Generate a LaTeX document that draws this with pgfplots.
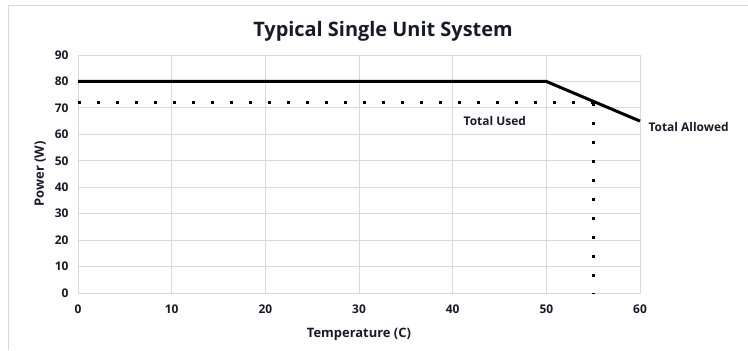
\documentclass[border=0pt]{standalone}
\usepackage{pgfplots}
\pgfplotsset{compat=1.18}
\usepackage{fontspec}
\setmainfont{Open Sans}
\definecolor{gridcol}{RGB}{217,217,217}
\definecolor{txtcol}{RGB}{25,25,40}
\begin{document}
\begin{tikzpicture}[x=1bp,y=1bp]
\useasboundingbox (0,0) rectangle (748,350);
\draw[gridcol, line width=1bp] (8,0) -- (8,344) -- (748,344);
\node[font=\fontsize{20}{24}\selectfont\bfseries, text=txtcol] at (383,319) {Typical Single Unit System};
\begin{axis}[
  at={(78bp,57bp)}, anchor=south west,
  scale only axis,
  width=562bp, height=238bp,
  xmin=0, xmax=60, ymin=0, ymax=90,
  xtick={0,10,...,60}, ytick={0,10,...,90},
  grid=major,
  grid style={gridcol, line width=0.8bp},
  axis line style={gridcol, line width=1bp},
  major tick length=0pt,
  tick label style={font=\fontsize{12}{14}\selectfont\bfseries, text=txtcol},
  /pgf/number format/assume math mode=true,
  xticklabel style={yshift=-8bp},
  yticklabel style={xshift=-6bp},
  xlabel={Temperature (C)},
  ylabel={Power (W)},
  label style={font=\fontsize{13}{15}\selectfont\bfseries, text=txtcol},
  xlabel style={yshift=-8bp},
  ylabel style={yshift=2bp},
  clip=false,
]
\addplot[black, line width=3bp, line join=miter] coordinates {(0,80) (50,80) (60,65)};
\addplot[black, line width=3bp, line cap=butt, dash pattern=on 3bp off 16bp] coordinates {(0,72) (55,72)};
\addplot[black, line width=3bp, line cap=butt, dash pattern=on 3bp off 16bp] coordinates {(55,72) (55,0)};
\node[font=\fontsize{12}{14}\selectfont\bfseries, text=txtcol] at (axis cs:44.5,65) {Total Used};
\node[font=\fontsize{12}{14}\selectfont\bfseries, text=txtcol, anchor=west] at (axis cs:60,62.8) [xshift=5bp] {Total Allowed};
\end{axis}
\end{tikzpicture}
\end{document}
